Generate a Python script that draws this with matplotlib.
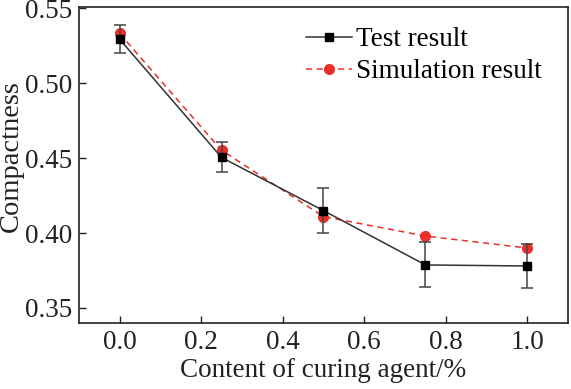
import matplotlib
matplotlib.use("Agg")
import matplotlib.pyplot as plt

content = [0.0, 0.25, 0.5, 0.75, 1.0]
test_vals = [0.5295, 0.4505, 0.4150, 0.3787, 0.3780]
test_err = [0.0095, 0.010, 0.015, 0.015, 0.015]
sim_vals = [0.5333, 0.4553, 0.4110, 0.3980, 0.3900]
xticks = [0.0, 0.2, 0.4, 0.6, 0.8, 1.0]
yticks = [0.35, 0.40, 0.45, 0.50, 0.55]

plt.rcParams['font.family'] = ['Liberation Serif', 'DejaVu Serif']
fig = plt.figure(figsize=(5.71, 3.89), dpi=100)
ax = fig.add_axes([0.138, 0.170, 0.857, 0.812])

FS = 19.5
ax.errorbar(content, test_vals, yerr=test_err, fmt='none', ecolor='#444444',
            elinewidth=1.1, capsize=4, capthick=1.1, zorder=3)
ax.plot(content, test_vals, color='#333333', lw=1.1, marker='s', ms=6,
        mfc='black', mec='black', label='Test result', zorder=4)
ax.plot(content, sim_vals, color='#e8302a', ls=(0, (4, 3)), lw=1.1, marker='o', ms=7,
        mfc='#e8302a', mec='#e8302a', label='Simulation result', zorder=2)

ax.set_xlim(-0.1, 1.1)
ax.set_ylim(0.34, 0.551)
ax.set_xticks(xticks)
ax.set_xticklabels([f"{v:.1f}" for v in xticks])
ax.set_yticks(yticks)
ax.set_yticklabels([f"{v:.2f}" for v in yticks])
ax.tick_params(direction='in', length=5, width=1, labelsize=FS, colors='#222222', pad=5)
for s in ax.spines.values():
    s.set_linewidth(1.2)
    s.set_color('#222222')
ax.set_xlabel('Content of curing agent/%', fontsize=FS, color='#222222', labelpad=2)
ax.set_ylabel('Compactness', fontsize=20.5, color='#222222', va='center')
ax.yaxis.set_label_coords(-0.138, 0.528)
leg = ax.legend(loc='upper right', frameon=False, fontsize=FS, handlelength=1.7,
                handletextpad=0.15, borderaxespad=0.0, labelspacing=0.25,
                bbox_to_anchor=(0.968, 0.97))
fig.savefig('out.png', dpi=100)
